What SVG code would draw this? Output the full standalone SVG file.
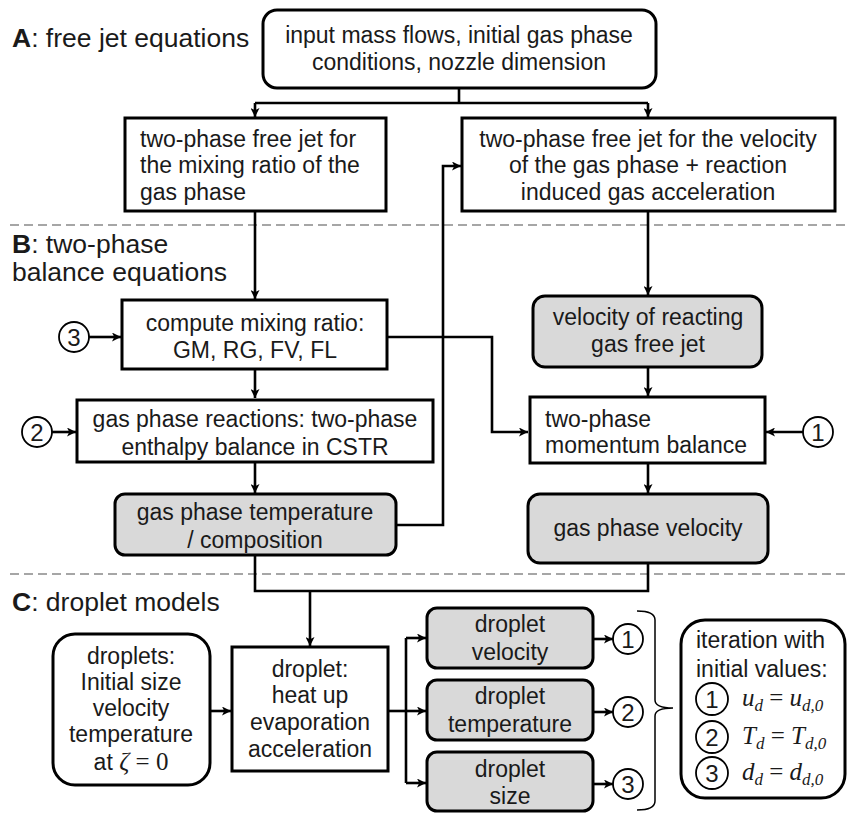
<svg xmlns="http://www.w3.org/2000/svg" width="847" height="813" viewBox="0 0 847 813">
<defs>
<marker id="ar" viewBox="0 0 10 10" refX="10" refY="5" markerWidth="9" markerHeight="9" markerUnits="userSpaceOnUse" orient="auto">
<path d="M0,0 L10,5 L0,10 L2.5,5 z" fill="#000"/>
</marker>
<style>
text{font-family:"Liberation Sans",Arial,sans-serif;font-size:23px;fill:#1a1a1a}
.sec{font-size:26.5px}
.c{text-anchor:middle}
.box{fill:#fff;stroke:#000;stroke-width:3}
.g{fill:#d9d9d9;stroke:#000;stroke-width:3}
.circ{fill:#fff;stroke:#000;stroke-width:1.8}
.num{font-size:24px;text-anchor:middle}
.con{fill:none;stroke:#000;stroke-width:2.6}
.dash{stroke:#a6a6a6;stroke-width:2;stroke-dasharray:9 5}
.m{font-family:"Liberation Serif","Times New Roman",serif;font-size:25px;font-style:italic}
.mu{font-family:"Liberation Serif","Times New Roman",serif;font-size:25px}
.sub{font-family:"Liberation Serif","Times New Roman",serif;font-size:17px;font-style:italic}
</style>
</defs>
<rect width="847" height="813" fill="#fff"/>
<g id="separators">
<line class="dash" x1="10" y1="225" x2="847" y2="225"/>
<line class="dash" x1="10" y1="574" x2="847" y2="574"/>
</g>
<g id="section-labels">
<text class="sec" x="12" y="47"><tspan font-weight="bold">A</tspan>: free jet equations</text>
<text class="sec" x="12" y="253"><tspan font-weight="bold">B</tspan>: two-phase</text>
<text class="sec" x="12" y="281">balance equations</text>
<text class="sec" x="12" y="611"><tspan font-weight="bold">C</tspan>: droplet models</text>
</g>
<g id="connectors">
<path class="con" d="M459,88 V103"/>
<path class="con" d="M255,103 H648"/>
<path class="con" d="M255,103 V117" marker-end="url(#ar)"/>
<path class="con" d="M648,103 V117" marker-end="url(#ar)"/>
<path class="con" d="M255,211 V299" marker-end="url(#ar)"/>
<path class="con" d="M255,369 V398" marker-end="url(#ar)"/>
<path class="con" d="M255,462 V493" marker-end="url(#ar)"/>
<path class="con" d="M396,525 H443 V166 H461" marker-end="url(#ar)"/>
<path class="con" d="M387,337 H492 V432 H528" marker-end="url(#ar)"/>
<path class="con" d="M648,211 V295" marker-end="url(#ar)"/>
<path class="con" d="M648,367 V396" marker-end="url(#ar)"/>
<path class="con" d="M648,463 V493" marker-end="url(#ar)"/>
<path class="con" d="M89,337 H121" marker-end="url(#ar)"/>
<path class="con" d="M52,432 H76" marker-end="url(#ar)"/>
<path class="con" d="M803,432 H766" marker-end="url(#ar)"/>
<path class="con" d="M255,555 V591 H648 V563"/>
<path class="con" d="M310,591 V646" marker-end="url(#ar)"/>
<path class="con" d="M210,711 H231" marker-end="url(#ar)"/>
<path class="con" d="M388,711 H406"/>
<path class="con" d="M406,638 V783"/>
<path class="con" d="M406,638 H426" marker-end="url(#ar)"/>
<path class="con" d="M406,711 H426" marker-end="url(#ar)"/>
<path class="con" d="M406,783 H426" marker-end="url(#ar)"/>
<path class="con" d="M593,639 H613" marker-end="url(#ar)"/>
<path class="con" d="M593,712 H613" marker-end="url(#ar)"/>
<path class="con" d="M593,784 H613" marker-end="url(#ar)"/>
<path d="M637,611 Q655,611 655,620 V700 Q655,708 673,708 Q655,708 655,716 V801 Q655,810 637,810" fill="none" stroke="#000" stroke-width="1.5"/>
</g>
<g id="input">
<rect class="box" x="263" y="10" width="393" height="78" rx="14"/>
<text class="c" x="459" y="43">input mass flows, initial gas phase</text>
<text class="c" x="459" y="70">conditions, nozzle dimension</text>
</g>
<g id="jet-mixing">
<rect class="box" x="125" y="118" width="261" height="93"/>
<text x="140" y="147">two-phase free jet for</text>
<text x="140" y="173">the mixing ratio of the</text>
<text x="140" y="200">gas phase</text>
</g>
<g id="jet-velocity">
<rect class="box" x="462" y="118" width="373" height="93"/>
<text class="c" x="648" y="147">two-phase free jet for the velocity</text>
<text class="c" x="648" y="173">of the gas phase + reaction</text>
<text class="c" x="648" y="200">induced gas acceleration</text>
</g>
<g id="mixing-ratio">
<rect class="box" x="122" y="300" width="265" height="69"/>
<text class="c" x="255" y="331">compute mixing ratio:</text>
<text class="c" x="255" y="358">GM, RG, FV, FL</text>
</g>
<g id="reactions">
<rect class="box" x="77" y="400" width="356" height="62"/>
<text class="c" x="255" y="427">gas phase reactions: two-phase</text>
<text class="c" x="255" y="455">enthalpy balance in CSTR</text>
</g>
<g id="gas-temperature">
<rect class="g" x="115" y="494" width="281" height="61" rx="10"/>
<text class="c" x="255" y="520">gas phase temperature</text>
<text class="c" x="255" y="548">/ composition</text>
</g>
<g id="reacting-velocity">
<rect class="g" x="533" y="296" width="229" height="71" rx="12"/>
<text class="c" x="648" y="325">velocity of reacting</text>
<text class="c" x="648" y="352">gas free jet</text>
</g>
<g id="momentum">
<rect class="box" x="530" y="397" width="235" height="66"/>
<text x="545" y="427">two-phase</text>
<text x="545" y="453">momentum balance</text>
</g>
<g id="gas-velocity">
<rect class="g" x="528" y="494" width="240" height="69" rx="12"/>
<text class="c" x="648" y="536">gas phase velocity</text>
</g>
<g id="c3-in">
<circle class="circ" cx="74" cy="337" r="15"/>
<text class="num" x="74" y="345.5">3</text>
</g>
<g id="c2-in">
<circle class="circ" cx="37" cy="432" r="15"/>
<text class="num" x="37" y="440.5">2</text>
</g>
<g id="c1-in">
<circle class="circ" cx="818" cy="432" r="15"/>
<text class="num" x="818" y="440.5">1</text>
</g>
<g id="droplets-init">
<rect class="box" x="53" y="634" width="157" height="151" rx="22"/>
<text class="c" x="131" y="664">droplets:</text>
<text class="c" x="131" y="690">Initial size</text>
<text class="c" x="131" y="716">velocity</text>
<text class="c" x="131" y="742">temperature</text>
<text class="c" x="131" y="770">at <tspan class="m">ζ</tspan><tspan class="mu"> = 0</tspan></text>
</g>
<g id="droplet-model">
<rect class="box" x="232" y="647" width="156" height="124"/>
<text class="c" x="310" y="677">droplet:</text>
<text class="c" x="310" y="703">heat up</text>
<text class="c" x="310" y="730">evaporation</text>
<text class="c" x="310" y="757">acceleration</text>
</g>
<g id="droplet-velocity">
<rect class="g" x="427" y="608" width="166" height="60" rx="10"/>
<text class="c" x="510" y="632">droplet</text>
<text class="c" x="510" y="660">velocity</text>
</g>
<g id="droplet-temperature">
<rect class="g" x="427" y="680" width="166" height="60" rx="10"/>
<text class="c" x="510" y="704">droplet</text>
<text class="c" x="510" y="732">temperature</text>
</g>
<g id="droplet-size">
<rect class="g" x="427" y="752" width="166" height="59" rx="10"/>
<text class="c" x="510" y="777">droplet</text>
<text class="c" x="510" y="804">size</text>
</g>
<g id="c1-out">
<circle class="circ" cx="628" cy="639" r="15"/>
<text class="num" x="628" y="647.5">1</text>
</g>
<g id="c2-out">
<circle class="circ" cx="628" cy="712" r="15"/>
<text class="num" x="628" y="720.5">2</text>
</g>
<g id="c3-out">
<circle class="circ" cx="628" cy="784" r="15"/>
<text class="num" x="628" y="792.5">3</text>
</g>
<g id="iteration">
<rect class="box" x="681" y="620" width="164" height="178" rx="24"/>
<text x="696" y="648">iteration with</text>
<text x="696" y="677">initial values:</text>
<circle class="circ" cx="712" cy="699" r="16"/>
<text class="num" x="712" y="707.5">1</text>
<circle class="circ" cx="712" cy="737" r="16"/>
<text class="num" x="712" y="745.5">2</text>
<circle class="circ" cx="712" cy="773" r="16"/>
<text class="num" x="712" y="781.5">3</text>
<text x="742" y="706"><tspan class="m">u</tspan><tspan class="sub" dy="5">d</tspan><tspan class="mu" dy="-5"> = </tspan><tspan class="m">u</tspan><tspan class="sub" dy="5">d,0</tspan></text>
<text x="742" y="744"><tspan class="m">T</tspan><tspan class="sub" dy="5">d</tspan><tspan class="mu" dy="-5"> = </tspan><tspan class="m">T</tspan><tspan class="sub" dy="5">d,0</tspan></text>
<text x="742" y="780"><tspan class="m">d</tspan><tspan class="sub" dy="5">d</tspan><tspan class="mu" dy="-5"> = </tspan><tspan class="m">d</tspan><tspan class="sub" dy="5">d,0</tspan></text>
</g>
</svg>
